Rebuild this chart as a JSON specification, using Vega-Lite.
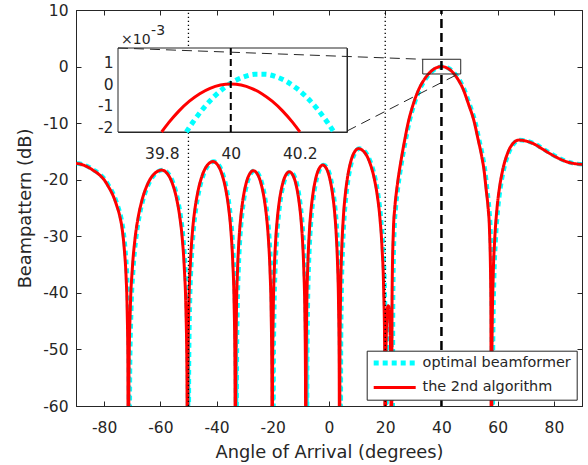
{
  "$schema": "https://vega.github.io/schema/vega-lite/v6.json",
  "width": 506,
  "height": 396,
  "autosize": {"type": "none"},
  "padding": {"left": 76, "top": 10, "right": 6, "bottom": 59},
  "background": "white",
  "config": {
    "view": {"stroke": "#262626", "strokeWidth": 1},
    "font": "DejaVu Sans",
    "axis": {
      "grid": false,
      "labelFont": "DejaVu Sans",
      "titleFont": "DejaVu Sans",
      "labelFontSize": 15.5,
      "titleFontSize": 17.8,
      "titleFontWeight": "normal",
      "labelColor": "#262626",
      "titleColor": "#262626",
      "domainColor": "#262626",
      "tickColor": "#262626",
      "domainWidth": 1,
      "tickWidth": 1
    }
  },
  "datasets": {
    "main": [
      {"a": -90, "db": -17.1}, {"a": -88, "db": -17.3}, {"a": -86, "db": -17.7}, {"a": -84, "db": -18.3}, {"a": -82, "db": -19.0}, {"a": -80, "db": -20.0}, {"a": -78.5, "db": -21.2}, {"a": -77, "db": -22.6}, {"a": -75.5, "db": -24.6}, {"a": -74.4, "db": -26.5}, {"a": -73.5, "db": -29.0}, {"a": -72.8, "db": -32.4}, {"a": -72.2, "db": -37}, {"a": -71.8, "db": -43}, {"a": -71.55, "db": -52}, {"a": -71.4, "db": -80},
      {"a": -71.16, "db": -54.3}, {"a": -70.69, "db": -42.9}, {"a": -69.97, "db": -35.8}, {"a": -69.02, "db": -30.5}, {"a": -67.83, "db": -26.5}, {"a": -66.64, "db": -23.84}, {"a": -64.26, "db": -20.5}, {"a": -61.88, "db": -18.83}, {"a": -59.5, "db": -18.3}, {"a": -57.67, "db": -18.83}, {"a": -55.84, "db": -20.5}, {"a": -54.01, "db": -23.84}, {"a": -53.1, "db": -26.5}, {"a": -52.18, "db": -30.5}, {"a": -51.45, "db": -35.8}, {"a": -50.9, "db": -42.9}, {"a": -50.53, "db": -54.3}, {"a": -50.35, "db": -80},
      {"a": -50.17, "db": -52.8}, {"a": -49.81, "db": -41.4}, {"a": -49.26, "db": -34.3}, {"a": -48.54, "db": -29.0}, {"a": -47.64, "db": -25.0}, {"a": -46.73, "db": -22.34}, {"a": -44.92, "db": -19.0}, {"a": -43.11, "db": -17.33}, {"a": -41.3, "db": -16.8}, {"a": -39.7, "db": -17.33}, {"a": -38.1, "db": -19.0}, {"a": -36.5, "db": -22.34}, {"a": -35.7, "db": -25.0}, {"a": -34.9, "db": -29.0}, {"a": -34.26, "db": -34.3}, {"a": -33.78, "db": -41.4}, {"a": -33.46, "db": -52.8}, {"a": -33.3, "db": -80},
      {"a": -33.17, "db": -54.4}, {"a": -32.92, "db": -43.0}, {"a": -32.53, "db": -35.9}, {"a": -32.02, "db": -30.6}, {"a": -31.38, "db": -26.6}, {"a": -30.74, "db": -23.94}, {"a": -29.46, "db": -20.6}, {"a": -28.18, "db": -18.93}, {"a": -26.9, "db": -18.4}, {"a": -25.56, "db": -18.93}, {"a": -24.22, "db": -20.6}, {"a": -22.88, "db": -23.94}, {"a": -22.21, "db": -26.6}, {"a": -21.54, "db": -30.6}, {"a": -21.0, "db": -35.9}, {"a": -20.6, "db": -43.0}, {"a": -20.33, "db": -54.4}, {"a": -20.2, "db": -80},
      {"a": -20.08, "db": -54.6}, {"a": -19.83, "db": -43.2}, {"a": -19.47, "db": -36.1}, {"a": -18.98, "db": -30.8}, {"a": -18.37, "db": -26.8}, {"a": -17.76, "db": -24.14}, {"a": -16.54, "db": -20.8}, {"a": -15.32, "db": -19.13}, {"a": -14.1, "db": -18.6}, {"a": -12.93, "db": -19.13}, {"a": -11.76, "db": -20.8}, {"a": -10.59, "db": -24.14}, {"a": -10.0, "db": -26.8}, {"a": -9.42, "db": -30.8}, {"a": -8.95, "db": -36.1}, {"a": -8.6, "db": -43.2}, {"a": -8.37, "db": -54.6}, {"a": -8.25, "db": -80},
      {"a": -8.13, "db": -53.4}, {"a": -7.89, "db": -42.0}, {"a": -7.52, "db": -34.9}, {"a": -7.04, "db": -29.6}, {"a": -6.44, "db": -25.6}, {"a": -5.83, "db": -22.94}, {"a": -4.62, "db": -19.6}, {"a": -3.41, "db": -17.93}, {"a": -2.2, "db": -17.4}, {"a": -1.01, "db": -17.93}, {"a": 0.18, "db": -19.6}, {"a": 1.37, "db": -22.94}, {"a": 1.97, "db": -25.6}, {"a": 2.56, "db": -29.6}, {"a": 3.04, "db": -34.9}, {"a": 3.39, "db": -42.0}, {"a": 3.63, "db": -53.4}, {"a": 3.75, "db": -80},
      {"a": 3.89, "db": -50.5}, {"a": 4.16, "db": -39.1}, {"a": 4.56, "db": -32.0}, {"a": 5.1, "db": -26.7}, {"a": 5.78, "db": -22.7}, {"a": 6.45, "db": -20.04}, {"a": 7.8, "db": -16.7}, {"a": 9.15, "db": -15.03}, {"a": 10.5, "db": -14.5}, {"a": 12.4, "db": -15.03}, {"a": 14.3, "db": -16.7}, {"a": 16.2, "db": -20.04}, {"a": 17.15, "db": -22.7}, {"a": 18.1, "db": -26.7}, {"a": 18.86, "db": -32.0}, {"a": 19.43, "db": -39.1}, {"a": 19.81, "db": -50.5}, {"a": 20.0, "db": -80},
      {"a": 20.15, "db": -55}, {"a": 20.4, "db": -47}, {"a": 20.7, "db": -43}, {"a": 21.05, "db": -42.3}, {"a": 21.4, "db": -43}, {"a": 21.75, "db": -47}, {"a": 22.02, "db": -55}, {"a": 22.2, "db": -80},
      {"a": 22.45, "db": -40}, {"a": 22.9, "db": -29}, {"a": 23.4, "db": -25}, {"a": 24.1, "db": -21.7}, {"a": 25.0, "db": -18.5}, {"a": 25.9, "db": -15.8}, {"a": 27.0, "db": -12.8}, {"a": 28.2, "db": -9.85}, {"a": 30.0, "db": -6.6}, {"a": 32.1, "db": -3.85}, {"a": 34.0, "db": -2.2}, {"a": 36.0, "db": -1.0}, {"a": 38.0, "db": -0.25}, {"a": 40.0, "db": 0}, {"a": 42.0, "db": -0.25}, {"a": 44.0, "db": -1.0}, {"a": 45.8, "db": -2.2}, {"a": 47.6, "db": -3.85}, {"a": 49.6, "db": -6.6}, {"a": 51.7, "db": -9.85}, {"a": 53.0, "db": -12.8}, {"a": 54.3, "db": -15.8}, {"a": 55.2, "db": -18.5}, {"a": 55.9, "db": -21.7}, {"a": 56.6, "db": -25}, {"a": 57.1, "db": -29}, {"a": 57.55, "db": -40}, {"a": 57.8, "db": -80},
      {"a": 57.99, "db": -49}, {"a": 58.38, "db": -37.6}, {"a": 58.96, "db": -30.5}, {"a": 59.74, "db": -25.2}, {"a": 60.71, "db": -21.2}, {"a": 61.68, "db": -18.54}, {"a": 63.62, "db": -15.2}, {"a": 65.56, "db": -13.53}, {"a": 67.5, "db": -13.0}, {"a": 70, "db": -13.15}, {"a": 73, "db": -13.7}, {"a": 76, "db": -14.6}, {"a": 79, "db": -15.5}, {"a": 82, "db": -16.3}, {"a": 85, "db": -16.9}, {"a": 88, "db": -17.2}, {"a": 90, "db": -17.3}
    ],
    "inset_red": [
      {"a": 39.7995, "v": -0.002212}, {"a": 39.82, "v": -0.001782}, {"a": 39.85, "v": -0.001238}, {"a": 39.88, "v": -0.000792}, {"a": 39.91, "v": -0.000446}, {"a": 39.94, "v": -0.000198}, {"a": 39.97, "v": -0.0000495}, {"a": 40.0, "v": 0}, {"a": 40.03, "v": -0.0000495}, {"a": 40.06, "v": -0.000198}, {"a": 40.09, "v": -0.000446}, {"a": 40.12, "v": -0.000792}, {"a": 40.15, "v": -0.001238}, {"a": 40.18, "v": -0.001782}, {"a": 40.2005, "v": -0.002212}
    ],
    "inset_cyan": [
      {"a": 39.871, "v": -0.002212}, {"a": 39.89, "v": -0.001764}, {"a": 39.92, "v": -0.001133}, {"a": 39.95, "v": -0.000606}, {"a": 39.98, "v": -0.000185}, {"a": 40.01, "v": 0.000131}, {"a": 40.04, "v": 0.000342}, {"a": 40.07, "v": 0.000447}, {"a": 40.1, "v": 0.000447}, {"a": 40.13, "v": 0.000342}, {"a": 40.16, "v": 0.000131}, {"a": 40.19, "v": -0.000185}, {"a": 40.22, "v": -0.000606}, {"a": 40.25, "v": -0.001133}, {"a": 40.28, "v": -0.001764}, {"a": 40.299, "v": -0.002212}
    ]
  },
  "layer": [
    {
      "layer": [
        {
          "data": {"name": "main"},
          "mark": {"type": "line", "strokeWidth": 4.5, "strokeCap": "butt", "clip": true, "xOffset": 1, "interpolate": "monotone"},
          "encoding": {
            "x": {"field": "a", "type": "quantitative", "scale": {"domain": [-90, 90], "nice": false, "zero": false},
              "axis": {"orient": "bottom", "title": "Angle of Arrival (degrees)", "values": [-80, -60, -40, -20, 0, 20, 40, 60, 80], "labelExpr": "'' + datum.value", "tickSize": -5, "labelPadding": 19, "titleBaseline": "alphabetic", "titleY": 51}},
            "y": {"field": "db", "type": "quantitative", "scale": {"domain": [-60, 10], "nice": false, "zero": false},
              "axis": {"orient": "left", "title": "Beampattern (dB)", "values": [-60, -50, -40, -30, -20, -10, 0, 10], "labelExpr": "'' + datum.value", "tickSize": -5, "labelPadding": 13, "titleBaseline": "alphabetic", "titleX": -46}},
            "color": {"datum": "optimal beamformer", "type": "nominal",
              "scale": {"domain": ["optimal beamformer", "the 2nd algorithm"], "range": ["#00FFFF", "#FF0000"]},
              "legend": {"orient": "none", "legendX": 290.7, "legendY": 340.7, "zindex": 2, "title": null, "symbolType": "M-4.2,0H4.2", "symbolSize": 100, "symbolStrokeWidth": 4, "symbolOffset": 15.8, "labelOffset": 20.7, "labelFontSize": 14.4, "labelFont": "DejaVu Sans", "labelColor": "#262626", "strokeColor": "#262626", "fillColor": "white", "padding": 5, "rowPadding": 5.5,
                "encode": {"symbols": {"update": {"strokeWidth": {"signal": "datum.value === 'optimal beamformer' ? 5 : 3"}, "strokeCap": {"value": "butt"}}}}}},
            "strokeDash": {"datum": "optimal beamformer", "type": "nominal",
              "scale": {"domain": ["optimal beamformer", "the 2nd algorithm"], "range": [[5, 4], [1, 0]]},
              "legend": {"orient": "none", "legendX": 290.7, "legendY": 340.7, "zindex": 2, "title": null, "symbolType": "M-4.2,0H4.2", "symbolSize": 100, "symbolStrokeWidth": 4, "symbolOffset": 15.8, "labelOffset": 20.7, "labelFontSize": 14.4, "labelFont": "DejaVu Sans", "labelColor": "#262626", "strokeColor": "#262626", "fillColor": "white", "padding": 5, "rowPadding": 5.5,
                "encode": {"symbols": {"update": {"strokeWidth": {"signal": "datum.value === 'optimal beamformer' ? 5 : 3"}, "strokeCap": {"value": "butt"}}}}}}
          }
        },
        {
          "data": {"name": "main"},
          "mark": {"type": "line", "strokeWidth": 3, "clip": true, "interpolate": "monotone"},
          "encoding": {
            "x": {"field": "a", "type": "quantitative", "scale": {"domain": [-90, 90], "nice": false, "zero": false},
              "axis": {"orient": "top", "title": null, "labels": false, "values": [-80, -60, -40, -20, 0, 20, 40, 60, 80], "tickSize": -5}},
            "y": {"field": "db", "type": "quantitative", "scale": {"domain": [-60, 10], "nice": false, "zero": false},
              "axis": {"orient": "right", "title": null, "labels": false, "values": [-60, -50, -40, -30, -20, -10, 0, 10], "tickSize": -5}},
            "color": {"datum": "the 2nd algorithm", "type": "nominal"},
            "strokeDash": {"datum": "the 2nd algorithm", "type": "nominal"}
          }
        },
        {
          "data": {"values": [{"a": -50, "y1": -60, "y2": 10}, {"a": 20, "y1": -60, "y2": 10}]},
          "mark": {"type": "rule", "color": "#000000", "strokeWidth": 1.3, "strokeDash": [1.3, 2.7]},
          "encoding": {
            "x": {"field": "a", "type": "quantitative", "axis": null},
            "y": {"field": "y1", "type": "quantitative", "axis": null},
            "y2": {"field": "y2"}
          }
        },
        {
          "data": {"values": [{"a": 40, "y1": -60, "y2": 10}]},
          "mark": {"type": "rule", "color": "#000000", "strokeWidth": 2.5, "strokeDash": [9, 5]},
          "encoding": {
            "x": {"field": "a", "type": "quantitative", "axis": null},
            "y": {"field": "y1", "type": "quantitative", "axis": null},
            "y2": {"field": "y2"}
          }
        },
        {
          "data": {"values": [{"x1": 33.34, "x2": 46.86, "y1": -1.31, "y2": 1.29}]},
          "mark": {"type": "rect", "fill": null, "fillOpacity": 0, "stroke": "#262626", "strokeWidth": 1},
          "encoding": {
            "x": {"field": "x1", "type": "quantitative", "axis": null},
            "x2": {"field": "x2"},
            "y": {"field": "y1", "type": "quantitative", "axis": null},
            "y2": {"field": "y2"}
          }
        }
      ],
      "resolve": {"axis": {"x": "independent", "y": "independent"}}
    },
    {
      "layer": [
        {
          "data": {"values": [{"x1": 39.673, "x2": 40.337, "y1": -0.002212, "y2": 0.001659}]},
          "mark": {"type": "rect", "fill": "white", "stroke": "#262626", "strokeWidth": 1},
          "encoding": {
            "x": {"field": "x1", "type": "quantitative", "scale": {"domain": [39.673, 40.337], "range": [42, 271], "nice": false, "zero": false},
              "axis": {"orient": "bottom", "offset": -274, "title": null, "values": [39.8, 40, 40.2], "labelExpr": "'' + datum.value", "tickSize": -4.5, "labelPadding": 18.5}},
            "x2": {"field": "x2"},
            "y": {"field": "y1", "type": "quantitative", "scale": {"domain": [-0.002212, 0.001659], "range": [122, 38], "nice": false, "zero": false},
              "axis": {"orient": "left", "offset": -42, "title": null, "values": [-0.002, -0.001, 0, 0.001], "labelExpr": "'' + round(datum.value * 1000)", "tickSize": -4.5, "labelPadding": 9.5}},
            "y2": {"field": "y2"}
          }
        },
        {
          "data": {"name": "inset_cyan"},
          "mark": {"type": "line", "color": "#00FFFF", "strokeWidth": 5, "strokeDash": [5, 4], "strokeCap": "butt", "interpolate": "monotone"},
          "encoding": {
            "x": {"field": "a", "type": "quantitative", "axis": {"orient": "top", "offset": -38, "title": null, "labels": false, "values": [39.8, 40, 40.2], "tickSize": -4.5}},
            "y": {"field": "v", "type": "quantitative", "axis": {"orient": "right", "offset": -235, "title": null, "labels": false, "values": [-0.002, -0.001, 0, 0.001], "tickSize": -4.5}}
          }
        },
        {
          "data": {"name": "inset_red"},
          "mark": {"type": "line", "color": "#FF0000", "strokeWidth": 3, "interpolate": "monotone"},
          "encoding": {
            "x": {"field": "a", "type": "quantitative", "axis": null},
            "y": {"field": "v", "type": "quantitative", "axis": null}
          }
        },
        {
          "data": {"values": [{"a": 40, "v1": -0.002212, "v2": 0.001659}]},
          "mark": {"type": "rule", "color": "#000000", "strokeWidth": 2, "strokeDash": [7, 4]},
          "encoding": {
            "x": {"field": "a", "type": "quantitative", "axis": null},
            "y": {"field": "v1", "type": "quantitative", "axis": null},
            "y2": {"field": "v2"}
          }
        },
        {
          "data": {"values": [{"a": 39.682, "v": 0.001843, "t": "×10"}]},
          "mark": {"type": "text", "align": "left", "baseline": "alphabetic", "fontSize": 14, "font": "DejaVu Sans", "color": "#262626"},
          "encoding": {
            "x": {"field": "a", "type": "quantitative", "axis": null},
            "y": {"field": "v", "type": "quantitative", "axis": null},
            "text": {"field": "t"}
          }
        },
        {
          "data": {"values": [{"a": 39.769, "v": 0.002258, "t": "-3"}]},
          "mark": {"type": "text", "align": "left", "baseline": "alphabetic", "fontSize": 14, "font": "DejaVu Sans", "color": "#262626"},
          "encoding": {
            "x": {"field": "a", "type": "quantitative", "axis": null},
            "y": {"field": "v", "type": "quantitative", "axis": null},
            "text": {"field": "t"}
          }
        }
      ],
      "resolve": {"axis": {"x": "independent", "y": "independent"}}
    },
    {
      "data": {"values": [{"x1": -75.06, "y1": 3.28, "x2": 33.34, "y2": 1.29}, {"x1": 6.41, "y1": -11.39, "x2": 46.25, "y2": -1.23}]},
      "mark": {"type": "rule", "color": "#262626", "strokeWidth": 1, "strokeDash": [10, 6]},
      "encoding": {
        "x": {"field": "x1", "type": "quantitative", "scale": {"domain": [-90, 90], "nice": false, "zero": false}, "axis": null},
        "y": {"field": "y1", "type": "quantitative", "scale": {"domain": [-60, 10], "nice": false, "zero": false}, "axis": null},
        "x2": {"field": "x2"},
        "y2": {"field": "y2"}
      }
    }
  ],
  "resolve": {"scale": {"x": "independent", "y": "independent"}, "axis": {"x": "independent", "y": "independent"}}
}
